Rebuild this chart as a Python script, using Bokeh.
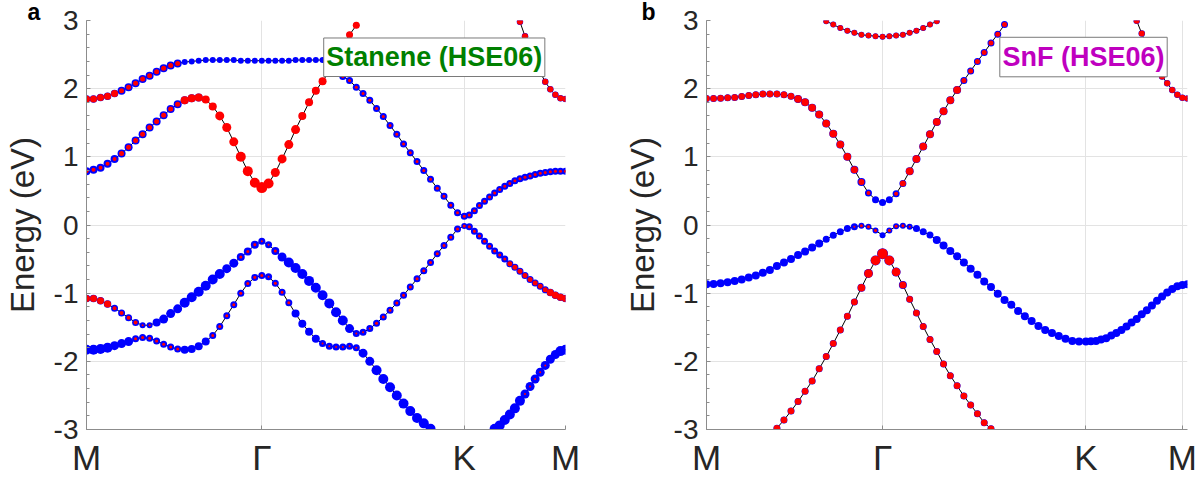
import numpy as np
from bokeh.plotting import figure
from bokeh.layouts import row
from bokeh.models import Range1d, FixedTicker, CustomJSTickFormatter, Label, ColumnDataSource
from bokeh.embed import file_html
from bokeh.resources import INLINE

nan = float("nan")

# ---------------- k-path M -> Gamma -> K -> M (hexagonal BZ, units of 2*pi/a) ----------------
kpath_labels = ["M", "Γ", "K", "M"]
seg_lengths = [1 / np.sqrt(3), 2 / 3, 1 / 3]
seg_steps = [25, 30, 20]            # k-point intervals in each segment
ticks_idx_a = [0, 25, 55, 75]       # k-point index of each high-symmetry label
ticks_idx_b = [0, 25, 55, 74]

# ---------------- panel a : Stanene (HSE06) ----------------
a_cb2 = ([1.85, 1.85, 1.87, 1.89, 1.93, 1.97, 2.02, 2.08, 2.14, 2.19, 2.25, 2.30, 2.34, 2.37, 2.39, 2.40,
          2.41, 2.42, 2.42, 2.42, 2.42, 2.42, 2.41, 2.41, 2.41, 2.41]
         + [2.41, 2.41, 2.41, 2.41, 2.42, 2.42, 2.42, 2.42, 2.42, 2.38, 2.51, 2.65, 2.79, 2.93] + [nan] * 16
         + [nan] * 10 + [2.98, 2.77, 2.57, 2.40, 2.24, 2.10, 1.99, 1.91, 1.86, 1.85])
a_cb2_wb = [7.5] * 5 + [8] * 9 + [6] * 12 + [6] * 14 + [0] * 16 + [0] * 10 + [6.5] * 10
a_cb2_wr = [7] * 5 + [5] * 9 + [0] * 12 + [0] * 9 + [4] + [7] * 4 + [0] * 16 + [0] * 10 + [6] * 10

a_cb1 = ([0.79, 0.81, 0.84, 0.90, 0.97, 1.05, 1.14, 1.24, 1.33, 1.43, 1.52, 1.61, 1.70, 1.77, 1.83, 1.86,
          1.87, 1.84, 1.74, 1.60, 1.43, 1.22, 1.00, 0.79, 0.62, 0.55]
         + [0.61, 0.77, 0.97, 1.18, 1.40, 1.60, 1.80, 1.97, 2.11, 2.25, 2.26, 2.18, 2.12, 2.02, 1.93, 1.83,
            1.71, 1.59, 1.46, 1.33, 1.19, 1.06, 0.93, 0.80, 0.67, 0.54, 0.42, 0.29, 0.18, 0.13]
         + [0.145, 0.21, 0.285, 0.35, 0.41, 0.47, 0.52, 0.57, 0.61, 0.65, 0.68, 0.70, 0.72, 0.74, 0.76,
            0.77, 0.78, 0.79, 0.79, 0.79])
a_cb1_wb = [8] * 14 + [8] * 3 + [7] * 9 + [7] * 30 + [7] * 20
a_cb1_wr = ([4] * 5 + [5] * 9 + [8, 8, 8] + [8, 8, 9, 9, 9, 10, 10, 10, 11]
            + [10, 9, 9, 9, 9, 8, 8, 8, 8, 7] + [3] * 20 + [3] * 20)

a_vb1 = ([-1.08, -1.08, -1.11, -1.16, -1.22, -1.29, -1.36, -1.43, -1.47, -1.47, -1.43, -1.38, -1.30, -1.23,
          -1.14, -1.06, -0.98, -0.89, -0.80, -0.72, -0.64, -0.56, -0.47, -0.39, -0.29, -0.24]
         + [-0.29, -0.38, -0.47, -0.55, -0.63, -0.72, -0.82, -0.92, -1.03, -1.15, -1.28, -1.40, -1.52, -1.59,
            -1.575, -1.52, -1.44, -1.35, -1.25, -1.145, -1.03, -0.91, -0.79, -0.67, -0.55, -0.42, -0.30,
            -0.18, -0.06, -0.015]
         + [-0.025, -0.09, -0.16, -0.24, -0.31, -0.38, -0.44, -0.50, -0.57, -0.62, -0.68, -0.74, -0.80, -0.85,
            -0.90, -0.95, -0.99, -1.03, -1.06, -1.08])
a_vb1_wb = ([7.5] * 4 + [7] * 4 + [6, 6] + [8, 9, 9, 9, 10, 10, 10, 10, 10, 10, 9, 9] + [8, 8, 8] + [7]
            + [7, 8, 9] + [10] * 9 + [9] + [7] * 3 + [7] * 13 + [6]
            + [7] * 16 + [7.5] * 4)
a_vb1_wr = ([7] * 4 + [4] * 4 + [2, 2] + [0] * 12 + [3, 3, 3] + [2]
            + [2, 3, 0] + [0] * 9 + [0] + [2] * 3 + [3] * 13 + [3]
            + [3] * 8 + [5] * 8 + [7] * 4)

a_vb2 = ([-1.83, -1.83, -1.82, -1.80, -1.77, -1.74, -1.71, -1.67, -1.65, -1.66, -1.70, -1.75, -1.79, -1.82,
          -1.83, -1.82, -1.78, -1.71, -1.62, -1.49, -1.33, -1.17, -1.00, -0.86, -0.77, -0.74]
         + [-0.76, -0.855, -0.985, -1.14, -1.30, -1.45, -1.565, -1.67, -1.74, -1.78, -1.79, -1.79, -1.78,
            -1.80, -1.88, -2.00, -2.13, -2.26, -2.38, -2.50, -2.62, -2.73, -2.83, -2.91, -2.99] + [nan] * 5
         + [nan] * 5 + [-2.99, -2.94, -2.86, -2.78, -2.69, -2.58, -2.48, -2.37, -2.26, -2.16, -2.06, -1.97,
                        -1.90, -1.85, -1.83])
a_vb2_wb = ([10, 10, 10, 10, 9, 9, 9] + [7] * 7 + [8] * 4 + [7] * 8
            + [7] * 4 + [8] * 4 + [7] * 6 + [9, 9, 10, 10, 10, 10, 10, 10, 10, 10, 10] + [0] * 5
            + [0] * 5 + [10] * 6 + [9] * 5 + [9, 9, 10, 10])
a_vb2_wr = ([0] * 7 + [3] * 7 + [0] * 4 + [3] * 8
            + [2, 3, 3, 3] + [0] * 4 + [2] * 6 + [0] * 16
            + [0] * 11 + [2] * 5 + [0] * 4)

# ---------------- panel b : SnF (HSE06) ----------------
b_cb2 = ([nan] * 17 + [2.99, 2.94, 2.89, 2.85, 2.82, 2.79, 2.78, 2.77, 2.76]
         + [2.77, 2.78, 2.79, 2.82, 2.85, 2.89, 2.94, 2.99] + [nan] * 22
         + [nan] * 20)
b_cb2_wb = [6] * 76
b_cb2_wr = [5.5] * 76

b_cb1 = ([1.855, 1.855, 1.86, 1.865, 1.87, 1.885, 1.90, 1.91, 1.92, 1.92, 1.92, 1.91, 1.89, 1.85, 1.80, 1.72,
          1.62, 1.49, 1.34, 1.18, 1.00, 0.81, 0.63, 0.47, 0.37, 0.33]
         + [0.37, 0.46, 0.61, 0.79, 0.97, 1.15, 1.33, 1.51, 1.67, 1.83, 1.98, 2.12, 2.26, 2.40, 2.53, 2.67,
            2.80, 2.94] + [nan] * 12
         + [nan] * 9 + [2.995, 2.81, 2.63, 2.45, 2.31, 2.18, 2.08, 1.98, 1.91, 1.865, 1.855])
b_cb1_wb = ([7] * 13 + [8] * 8 + [8, 8, 7, 7, 7]
            + [7, 7, 7] + [8] * 8 + [7] * 7 + [0] * 12
            + [0] * 9 + [6.5] * 11)
b_cb1_wr = ([6.5] * 13 + [7.5] * 8 + [7, 6, 4, 0, 0]
            + [0, 4, 6] + [7.5] * 8 + [5] * 7 + [0] * 12
            + [0] * 9 + [6] * 11)

b_vb1 = ([-0.87, -0.865, -0.855, -0.84, -0.82, -0.80, -0.77, -0.74, -0.70, -0.66, -0.60, -0.55, -0.50, -0.44,
          -0.39, -0.33, -0.27, -0.21, -0.15, -0.10, -0.05, -0.025, -0.01, -0.025, -0.08, -0.15]
         + [-0.08, -0.02, -0.01, -0.025, -0.05, -0.10, -0.145, -0.22, -0.30, -0.38, -0.46, -0.55, -0.64,
            -0.73, -0.83, -0.91, -1.01, -1.10, -1.17, -1.26, -1.34, -1.41, -1.48, -1.54, -1.585, -1.63,
            -1.67, -1.70, -1.71, -1.71]
         + [-1.705, -1.70, -1.68, -1.66, -1.62, -1.585, -1.54, -1.49, -1.43, -1.38, -1.31, -1.25, -1.18,
            -1.11, -1.05, -0.99, -0.94, -0.90, -0.88, -0.87])
b_vb1_wb = [8] * 17 + [7] * 5 + [6] * 4 + [6, 6, 6, 6, 7, 7, 7] + [8] * 23 + [8] * 20
b_vb1_wr = [0] * 21 + [2, 3, 3, 3, 0] + [3, 3, 3, 2, 0, 0, 0] + [0] * 23 + [0] * 20

b_vb2 = ([nan] * 10 + [-2.98, -2.86, -2.73, -2.59, -2.44, -2.29, -2.11, -1.93, -1.74, -1.54, -1.34, -1.13,
                       -0.92, -0.71, -0.52, -0.42]
         + [-0.52, -0.69, -0.88, -1.09, -1.29, -1.49, -1.68, -1.855, -2.04, -2.21, -2.36, -2.51, -2.64,
            -2.77, -2.90, -2.99] + [nan] * 14
         + [nan] * 20)
b_vb2_wb = [0] * 10 + [7] * 12 + [8, 9, 10, 11] + [10, 9, 8] + [7] * 13 + [0] * 14 + [0] * 20
b_vb2_wr = [0] * 10 + [6.5] * 12 + [7.5, 8.5, 9.5, 10.5] + [9.5, 8.5, 7] + [6.5] * 13 + [0] * 14 + [0] * 20

# ---------------- build the k grid ----------------
kpts = [0.0]
start = 0.0
for L, n in zip(seg_lengths, seg_steps):
    kpts.extend((start + np.linspace(0.0, L, n + 1)[1:]).tolist())
    start += L
kpts = np.array(kpts)
KMAX = float(kpts[-1])

FONT = "Liberation Sans"
BLUE = "#0000ff"
RED = "#ff0000"
FIG_W, FIG_H = 600, 479
TOP, BOTTOM = 19, 46


def make_panel(bands, ticks_idx, offset_x, left, right, letter, letter_x,
               box_px, box_text, box_color):
    frame_w = FIG_W - left - right
    frame_h = FIG_H - TOP - BOTTOM

    def dx(ref_x):   # page pixel -> data k
        return (ref_x - offset_x - left) / frame_w * KMAX

    def dy(ref_y):   # page pixel -> data energy
        return 3 - (ref_y - TOP) / frame_h * 6

    p = figure(width=FIG_W, height=FIG_H, x_range=Range1d(0, KMAX), y_range=Range1d(-3, 3),
               output_backend="svg", toolbar_location=None,
               min_border_left=left, min_border_right=right,
               min_border_top=TOP, min_border_bottom=BOTTOM)
    p.outline_line_color = None

    # panel letter as a compact title sitting left of the frame
    p.title.text = letter
    p.title.align = "left"
    p.title.offset = letter_x - left
    p.title.standoff = -8
    p.title.vertical_align = "bottom"
    p.title.text_font = FONT
    p.title.text_font_style = "bold"
    p.title.text_font_size = "23px"
    p.title.text_color = "black"
    p.title.text_line_height = 0.3

    tick_k = [float(kpts[i]) for i in ticks_idx]
    p.xaxis.ticker = FixedTicker(ticks=tick_k)
    p.xaxis.formatter = CustomJSTickFormatter(args=dict(names=kpath_labels),
                                              code="return names[index];")
    p.yaxis.ticker = FixedTicker(ticks=[-3, -2, -1, 0, 1, 2, 3],
                                 minor_ticks=[round(-3 + 0.2 * i, 1) for i in range(31)])
    p.yaxis.formatter = CustomJSTickFormatter(code="return tick.toFixed(0);")
    for ax in (p.xaxis, p.yaxis):
        ax.axis_line_color = "#8c8c8c"
        ax.major_tick_line_color = "#8c8c8c"
        ax.minor_tick_line_color = "#8c8c8c"
        ax.major_tick_in = 4
        ax.major_tick_out = 0
        ax.minor_tick_in = 3
        ax.minor_tick_out = 0
        ax.major_label_text_font = FONT
        ax.major_label_text_color = "#262626"
    p.xaxis.minor_tick_line_color = None
    p.xaxis.major_label_text_font_size = "35px"
    p.xaxis.major_label_standoff = 8
    p.yaxis.major_label_text_font_size = "28px"
    p.yaxis.major_label_standoff = 8
    p.yaxis.axis_label = "Energy (eV)"
    p.yaxis.axis_label_text_font = FONT
    p.yaxis.axis_label_text_font_style = "normal"
    p.yaxis.axis_label_text_font_size = "33px"
    p.yaxis.axis_label_text_color = "#262626"
    p.yaxis.axis_label_standoff = 10
    p.xgrid.ticker = FixedTicker(ticks=tick_k)
    p.ygrid.ticker = FixedTicker(ticks=[-3, -2, -1, 0, 1, 2, 3])
    p.xgrid.grid_line_color = "#e3e3e3"
    p.ygrid.grid_line_color = "#e3e3e3"

    sources = [ColumnDataSource(dict(k=kpts, e=np.array(e, dtype=float),
                                     wb=np.array(wb, dtype=float), wr=np.array(wr, dtype=float)))
               for e, wb, wr in bands]
    for s in sources:
        p.line("k", "e", source=s, line_color="black", line_width=1)
    for s in sources:
        p.scatter("k", "e", source=s, size="wb", fill_color=BLUE, line_color=None)
    for s in sources:
        p.scatter("k", "e", source=s, size="wr", fill_color=RED, line_color=None)

    # text box
    x0, x1, y0, y1 = box_px
    p.quad(left=[dx(x0)], right=[dx(x1)], top=[dy(y0)], bottom=[dy(y1)],
           fill_color="white", line_color="#7a7a7a", line_width=1)
    p.add_layout(Label(x=dx((x0 + x1) / 2), y=dy((y0 + y1) / 2), text=box_text,
                       text_font=FONT, text_font_style="bold", text_font_size="27px",
                       text_color=box_color, text_align="center", text_baseline="middle"))
    return p


bands_a = [(a_cb2, a_cb2_wb, a_cb2_wr), (a_cb1, a_cb1_wb, a_cb1_wr),
           (a_vb1, a_vb1_wb, a_vb1_wr), (a_vb2, a_vb2_wb, a_vb2_wr)]
bands_b = [(b_cb2, b_cb2_wb, b_cb2_wr), (b_cb1, b_cb1_wb, b_cb1_wr),
           (b_vb1, b_vb1_wb, b_vb1_wr), (b_vb2, b_vb2_wb, b_vb2_wr)]
for e, wb, wr in bands_a + bands_b:
    assert len(e) == len(wb) == len(wr) == len(kpts), (len(e), len(wb), len(wr))

pa = make_panel(bands_a, ticks_idx_a, 0, 85, 35, "a", 26, (322.7, 544.3, 36.7, 75.7),
                "Stanene (HSE06)", "#008000")
pb = make_panel(bands_b, ticks_idx_b, 600, 106, 13, "b", 41, (999.3, 1166.7, 36.0, 76.0),
                "SnF (HSE06)", "#bf00bf")

layout = row(pa, pb)
open("out.html", "w").write(file_html(layout, INLINE))
